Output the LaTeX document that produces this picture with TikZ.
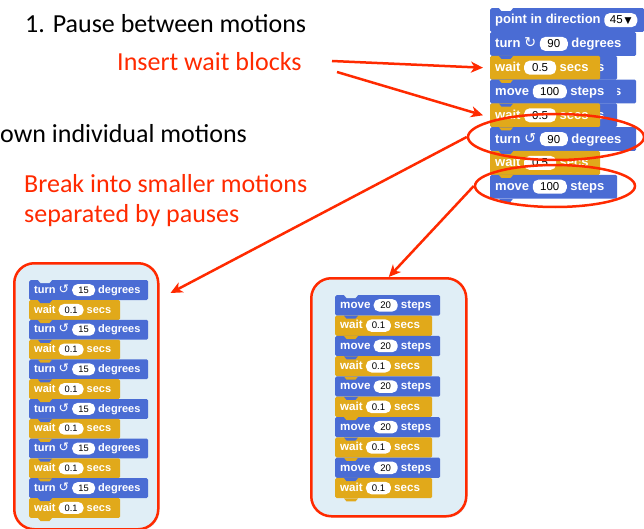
\documentclass[tikz,border=0pt]{standalone}
\usepackage{fontspec}
\setmainfont{Carlito}
\newfontfamily\blkfont{Liberation Sans}
\newfontfamily\symfont{DejaVu Sans}
\usetikzlibrary{shapes.geometric,arrows.meta}
\pgfdeclarelayer{bglayer}
\pgfdeclarelayer{fglayer}
\pgfsetlayers{bglayer,main,fglayer}
\definecolor{sblue}{HTML}{4A6CD4}
\definecolor{sorange}{HTML}{E1A91A}
\definecolor{mred}{HTML}{FF2A00}
\definecolor{boxfill}{HTML}{E0EEF6}
\def\bfs{10.7}\def\pfs{9}\def\ph{12}\def\sfs{13}
\tikzset{
  blockst/.style={rounded corners=1.5pt, inner xsep=5pt, inner ysep=0pt, text=white,
    anchor=north west, font=\blkfont\bfseries\fontsize{\bfs}{\bfs}\selectfont},
  pillst/.style={fill=white, draw=none, text=black, rounded corners=5.5pt, inner xsep=0pt,
    inner ysep=0pt, anchor=base, align=center, minimum height=\ph pt,
    font=\blkfont\mdseries\fontsize{\pfs}{\pfs}\selectfont},
  note/.style={font=\fontsize{26}{32}\selectfont, inner sep=0pt, anchor=base west},
  redline/.style={draw=mred, line width=2.5pt},
  redarrow/.style={redline, -{Stealth[length=12pt,width=11pt,inset=3.5pt]}},
  boxst/.style={draw=mred, fill=boxfill, line width=2.5pt, rounded corners=20pt,
    anchor=north west, inner sep=0pt},
  ringst/.style={ellipse, draw=mred, line width=2.5pt, inner sep=0pt},
}
\newcommand\sym[1]{{\symfont\mdseries\fontsize{\sfs}{\sfs}\selectfont #1}}
\newcommand\pill[2]{\tikz[baseline=(P.base)]\node[pillst, minimum width=#1pt](P){#2};}
% name, x, y, width, height, colour, content  (no tab)
\newcommand\blkn[7]{%
  \pgfmathsetmacro\blktw{#4-10}%
  \node[blockst, fill=#6, minimum height=#5pt] (#1) at (#2,#3) {\makebox[\blktw pt][l]{#7}};}
% with bottom tab
\newcommand\blk[7]{%
  \blkn{#1}{#2}{#3}{#4}{#5}{#6}{#7}%
  \begin{pgfonlayer}{fglayer}
    \fill[#6] ([xshift=9pt]#1.south west) -- ++(2.5pt,-3pt) -- ++(9pt,0pt) -- ++(2.5pt,3pt) -- cycle;
  \end{pgfonlayer}}
\newcommand\notch[2]{%
  \begin{pgfonlayer}{fglayer}
    \fill[#2] ([xshift=9pt]#1.north west) -- ++(2.5pt,-3pt) -- ++(9pt,0pt) -- ++(2.5pt,3pt) -- cycle;
  \end{pgfonlayer}}
\begin{document}
\begin{tikzpicture}[x=1pt,y=-1pt]
\useasboundingbox (0,0) rectangle (644,529);

% annotation texts
\node[note] (pause) at (25,33) {1. Pause between motions};
\node[note, text=mred] (ins) at (117,70.7) {Insert wait blocks};
\node[note] (own) at (0,143) {own individual motions};
\node[note, text=mred] (brk1) at (24,193) {Break into smaller motions};
\node[note, text=mred] (brk2) at (24,222.7) {separated by pauses};

% boxes
\begin{pgfonlayer}{bglayer}
  \fill[white] (0,0) rectangle (644,529);
  \fill[black!10] (15.5,265) [rounded corners=20pt] rectangle (159.5,530.5);
  \fill[black!10] (312.5,280) [rounded corners=20pt] rectangle (467.5,517.5);
  \node[boxst, minimum width=144pt, minimum height=266pt] (lbox) at (13,262) {};
  \node[boxst, minimum width=155pt, minimum height=238pt] (rbox) at (310,277) {};
\end{pgfonlayer}

% top-right stack
\def\bfs{13}\def\pfs{11.5}\def\ph{14}\def\sfs{14.5}
\blkn{bh1}{490}{55.6}{127}{23.8}{sblue}{move \pill{34}{100} steps}
\blkn{bh2}{490}{79.4}{146}{23.8}{sblue}{turn \sym{↺} \pill{28}{90} degrees}
\blkn{bh3}{490}{103.2}{127}{23.8}{sblue}{move \pill{34}{100} steps}
\blk{t1}{490}{8}{154}{23.8}{sblue}{point in direction \pill{33}{45\,\sym{\fontsize{9}{9}\selectfont ▼}}}
\notch{t1}{white}
\blk{t2}{490}{31.8}{146}{23.8}{sblue}{turn \sym{↻} \pill{28}{90} degrees}
\blk{t3}{490}{55.6}{110}{23.8}{sorange}{wait \pill{32}{0.5} secs}
\blk{t4}{490}{79.4}{127}{23.8}{sblue}{move \pill{34}{100} steps}
\blk{t5}{490}{103.2}{110}{23.8}{sorange}{wait \pill{32}{0.5} secs}
\blk{t6}{490}{127}{146}{23.8}{sblue}{turn \sym{↺} \pill{28}{90} degrees}
\blk{t7}{490}{150.8}{110}{23.8}{sorange}{wait \pill{32}{0.5} secs}
\blk{t8}{490}{174.6}{127}{23.8}{sblue}{move \pill{34}{100} steps}

% left stack
\def\bfs{11}\def\pfs{9.3}\def\ph{12}\def\sfs{12.5}
\foreach \i in {0,...,5}{
  \pgfmathsetmacro\ya{280+\i*39.6}
  \pgfmathsetmacro\yb{299.8+\i*39.6}
  \blk{lt\i}{29}{\ya}{119}{19.8}{sblue}{turn \sym{↺} \pill{23}{15} degrees}
  \blk{lw\i}{29}{\yb}{91}{19.8}{sorange}{wait \pill{25}{0.1} secs}
}
\notch{lt0}{boxfill}

% right stack
\def\bfs{11.6}\def\pfs{9.6}\def\ph{12.5}
\foreach \i in {0,...,4}{
  \pgfmathsetmacro\ya{295+\i*40.6}
  \pgfmathsetmacro\yb{315.3+\i*40.6}
  \blk{rm\i}{335}{\ya}{105}{20.3}{sblue}{move \pill{24}{20} steps}
  \blk{rw\i}{335}{\yb}{97}{20.3}{sorange}{wait \pill{25}{0.1} secs}
}
\notch{rm0}{boxfill}

% rings and arrows
\begin{pgfonlayer}{fglayer}
  \node[ringst, minimum width=176pt, minimum height=46pt] (e1) at (556,137) {};
  \node[ringst, minimum width=160pt, minimum height=42pt] (e2) at (555,186) {};
  \coordinate (a1s) at (332,61);
  \coordinate (a2s) at (337,72);
  \coordinate (a3e) at ([xshift=11pt,yshift=-31pt]lbox.north east);
  \draw[redarrow] (a1s) -- ([xshift=-7pt]t3.west);
  \draw[redarrow] (a2s) -- ([xshift=-7pt]t5.west);
  \draw[redarrow] (e1.west) -- (a3e);
  \draw[redarrow] (e2.west) -- (rbox.north);
\end{pgfonlayer}
\end{tikzpicture}
\end{document}
